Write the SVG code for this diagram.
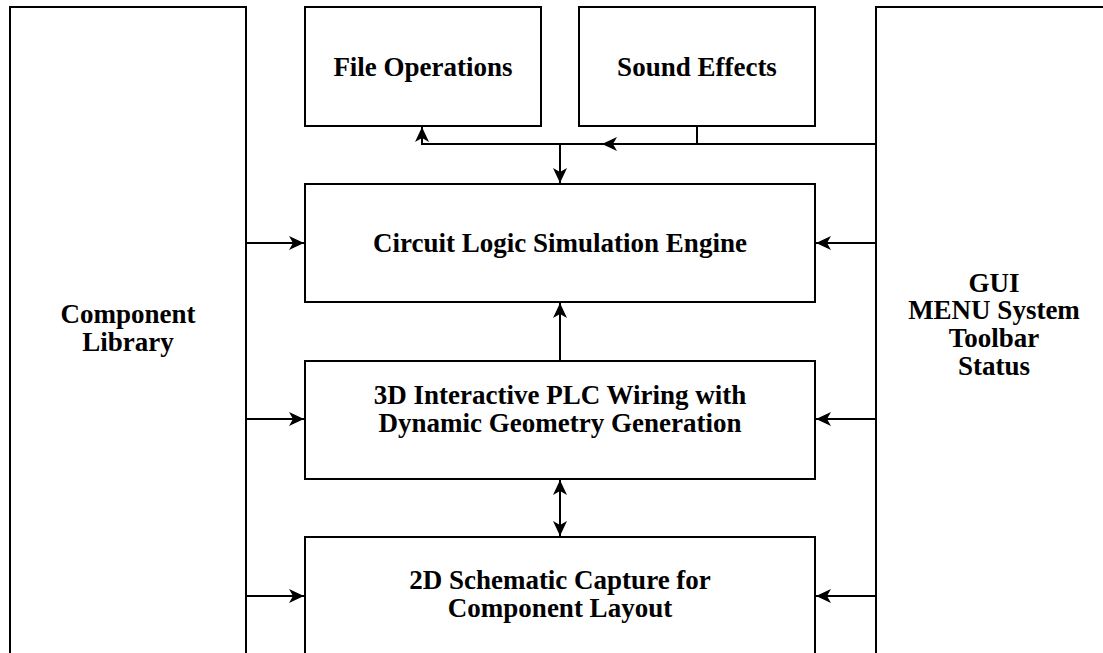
<svg xmlns="http://www.w3.org/2000/svg" width="1103" height="653" viewBox="0 0 1103 653">
  <style>
    .box { fill: #ffffff; stroke: #000000; stroke-width: 2; }
    .label { font-family: "Liberation Serif", "Times New Roman", serif; font-weight: bold; font-size: 27px; fill: #000000; text-anchor: middle; }
    .wire { fill: none; stroke: #000000; stroke-width: 2; }
    .arrow { marker-end: url(#head); }
    .both { marker-start: url(#head); marker-end: url(#head); }
  </style>
  <defs>
    <marker id="head" viewBox="-16 -8 17 16" refX="0" refY="0" markerWidth="17" markerHeight="16" markerUnits="userSpaceOnUse" orient="auto-start-reverse">
      <path d="M0,0 L-15,-7 L-11,0 L-15,7 Z" fill="#000000"/>
    </marker>
  </defs>

  <rect width="1103" height="653" fill="#ffffff"/>

  <g id="component-library">
    <rect class="box" x="10" y="7" width="236" height="670"/>
    <text class="label" x="128" y="323">Component</text>
    <text class="label" x="128" y="351">Library</text>
  </g>

  <g id="gui">
    <rect class="box" x="876" y="7" width="236" height="670"/>
    <text class="label" x="994" y="292">GUI</text>
    <text class="label" x="994" y="319">MENU System</text>
    <text class="label" x="994" y="347">Toolbar</text>
    <text class="label" x="994" y="375">Status</text>
  </g>

  <g id="file-operations">
    <rect class="box" x="305" y="7" width="236" height="119"/>
    <text class="label" x="423" y="76">File Operations</text>
  </g>

  <g id="sound-effects">
    <rect class="box" x="579" y="7" width="236" height="119"/>
    <text class="label" x="697" y="76">Sound Effects</text>
  </g>

  <g id="simulation-engine">
    <rect class="box" x="305" y="184" width="510" height="118"/>
    <text class="label" x="560" y="252">Circuit Logic Simulation Engine</text>
  </g>

  <g id="plc-wiring-3d">
    <rect class="box" x="305" y="361" width="510" height="118"/>
    <text class="label" x="560" y="404">3D Interactive PLC Wiring with</text>
    <text class="label" x="560" y="432">Dynamic Geometry Generation</text>
  </g>

  <g id="schematic-2d">
    <rect class="box" x="305" y="537" width="510" height="140"/>
    <text class="label" x="560" y="589">2D Schematic Capture for</text>
    <text class="label" x="560" y="617">Component Layout</text>
  </g>

  <g id="connectors">
    <!-- GUI bus feeding file operations -->
    <path class="wire arrow" d="M876,144 H422 V127"/>
    <!-- sound effects tap onto the bus -->
    <path class="wire arrow" d="M697,126 V144 H602"/>
    <!-- bus into the simulation engine -->
    <path class="wire arrow" d="M560,144 V183"/>
    <!-- component library feeds -->
    <path class="wire arrow" d="M246,243 H304"/>
    <path class="wire arrow" d="M246,419 H304"/>
    <path class="wire arrow" d="M246,596 H304"/>
    <!-- GUI feeds -->
    <path class="wire arrow" d="M876,243 H816"/>
    <path class="wire arrow" d="M876,419 H816"/>
    <path class="wire arrow" d="M876,596 H816"/>
    <!-- 3D wiring up to engine -->
    <path class="wire arrow" d="M560,361 V303"/>
    <!-- 3D and 2D exchange -->
    <path class="wire both" d="M560,480 V536"/>
  </g>
</svg>
